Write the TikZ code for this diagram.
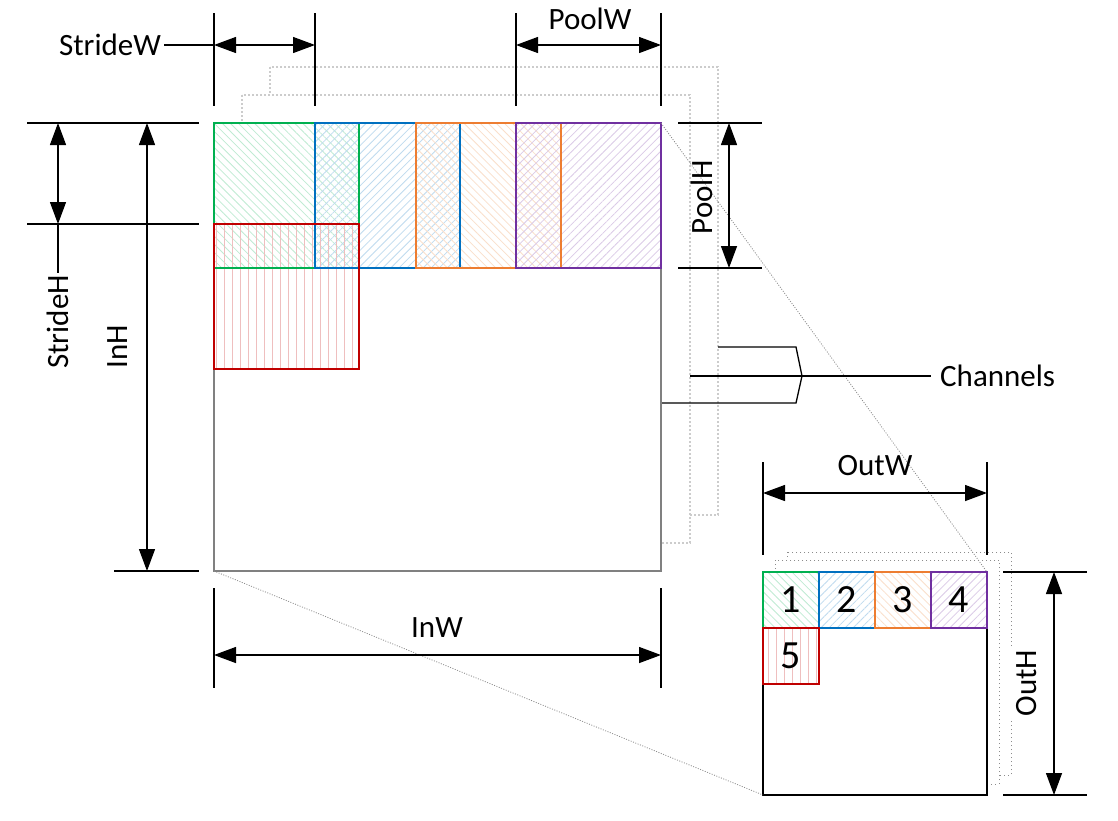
\documentclass[tikz,border=0pt]{standalone}
\usepackage{fontspec}
\setmainfont{Carlito}
\usetikzlibrary{arrows.meta,patterns.meta}
\definecolor{cgreen}{HTML}{00B050}
\definecolor{cblue}{HTML}{0070C0}
\definecolor{corange}{HTML}{ED7D31}
\definecolor{cpurple}{HTML}{7030A0}
\definecolor{cred}{HTML}{C00000}
\begin{document}
\begin{tikzpicture}[x=1pt,y=-1pt,
  ext/.style={line width=1.3pt},
  dim/.style={line width=1.3pt,{Triangle[length=22pt,width=16pt]}-{Triangle[length=22pt,width=16pt]}},
  lbl/.style={font=\fontsize{31}{36}\selectfont, inner sep=0pt},
  inframe/.style={draw=gray!40, fill=white, line width=2pt, dash pattern=on 2pt off 2pt},
  outframe/.style={draw=gray!90, fill=white, line width=1pt, dash pattern=on 1pt off 3pt},
  diag/.style={draw=gray!90, line width=0.8pt, dash pattern=on 1pt off 1.5pt},
  inrect/.style={draw=gray, fill=white, line width=2pt, anchor=north west, inner sep=0pt, outer sep=0pt, minimum width=447pt, minimum height=448pt},
  outrect/.style={draw=black, fill=white, line width=1.5pt, anchor=north west, inner sep=0pt, outer sep=0pt, minimum width=224pt, minimum height=223pt},
  win/.style={anchor=north west, inner sep=0pt, outer sep=0pt, minimum width=145pt, minimum height=145pt},
  cell/.style={anchor=north west, inner sep=0pt, outer sep=0pt, minimum width=56pt, minimum height=56pt, font=\fontsize{40}{48}\selectfont},
  edge/.style={line width=2pt},
  hnw/.style={pattern={Lines[angle=-45,distance=5.7pt,line width=0.8pt]}},
  hne/.style={pattern={Lines[angle=45,distance=5.7pt,line width=0.8pt]}},
  hv/.style={pattern={Lines[angle=90,distance=8pt,line width=0.8pt]}},
]
\useasboundingbox (0,0) rectangle (1118,820);

% ---------- input back frames ----------
\draw[inframe] (270,67) rectangle (718,515);
\draw[inframe] (242,95) rectangle (690,543);

% ---------- input main ----------
\node[inrect] (in) at (214,123) {};

% pooling windows (hatch first)
\node[win, hnw, pattern color=cgreen!25] (w1) at (214,123) {};
\node[win, hne, pattern color=cblue!25] (w2) at (315,123) {};
\node[win, hnw, pattern color=corange!25] (w3) at (416,123) {};
\node[win, hne, pattern color=cpurple!25] (w4) at (516,123) {};
\node[win, hv, pattern color=cred!25] (w5) at (214,224) {};
% window borders
\draw[edge, cgreen] (w1.north west) rectangle (w1.south east);
\draw[edge, cblue] (w2.north west) rectangle (w2.south east);
\draw[edge, corange] (w3.north west) rectangle (w3.south east);
\draw[edge, cpurple] (w4.north west) rectangle (w4.south east);
\draw[edge, cred] (w5.north west) rectangle (w5.south east);

% ---------- output ----------
\draw[outframe] (787,552) rectangle (1011,775);
\draw[outframe] (775,560) rectangle (999,784);
\node[outrect] (out) at (763,572) {};
\node[cell, hnw, pattern color=cgreen!25] (c1) at (763,572) {1};
\node[cell, hne, pattern color=cblue!25] (c2) at (819,572) {2};
\node[cell, hnw, pattern color=corange!25] (c3) at (875,572) {3};
\node[cell, hne, pattern color=cpurple!25] (c4) at (931,572) {4};
\node[cell, hv, pattern color=cred!25] (c5) at (763,628) {5};
\draw[edge, cgreen] (c1.north west) rectangle (c1.south east);
\draw[edge, cblue] (c2.north west) rectangle (c2.south east);
\draw[edge, corange] (c3.north west) rectangle (c3.south east);
\draw[edge, cpurple] (c4.north west) rectangle (c4.south east);
\draw[edge, cred] (c5.north west) rectangle (c5.south east);

% ---------- projection lines ----------
\draw[diag] (in.north east) -- (out.north east);
\draw[diag] (in.south west) -- (out.south west);

% ---------- StrideW / PoolW ----------
\draw[ext] (214,13) -- (214,106);
\draw[ext] (315,13) -- (315,106);
\draw[ext] (516,13) -- (516,106);
\draw[ext] (661,13) -- (661,106);
\coordinate (swa) at (214,45);
\coordinate (swb) at (315,45);
\draw[dim] (swa) -- (swb);
\node[lbl, inner xsep=3pt] (swl) at (110,45) {StrideW};
\draw[ext] (swl.east) -- (swa);
\coordinate (pwa) at (516,45);
\coordinate (pwb) at (661,45);
\draw[dim] (pwa) -- (pwb);
\node[lbl] (pwl) at (590,19) {PoolW};

% ---------- StrideH / InH ----------
\draw[ext] (27,123) -- (199,123);
\draw[ext] (27,224) -- (199,224);
\draw[ext] (114,571) -- (199,571);
\coordinate (sha) at (58,123);
\coordinate (shb) at (58,224);
\draw[dim] (sha) -- (shb);
\node[lbl, rotate=90, inner xsep=2pt] (shl) at (58,322) {StrideH};
\draw[ext] (shb) -- (shl.east);
\coordinate (iha) at (147,123);
\coordinate (ihb) at (147,571);
\draw[dim] (iha) -- (ihb);
\node[lbl, rotate=90] (ihl) at (118,347) {InH};

% ---------- PoolH ----------
\draw[ext] (678,123) -- (762,123);
\draw[ext] (678,268) -- (762,268);
\coordinate (pha) at (729,123);
\coordinate (phb) at (729,268);
\draw[dim] (pha) -- (phb);
\node[lbl, rotate=90] (phl) at (702,197) {PoolH};

% ---------- InW ----------
\draw[ext] (214,588) -- (214,688);
\draw[ext] (661,588) -- (661,688);
\coordinate (iwa) at (214,655);
\coordinate (iwb) at (661,655);
\draw[dim] (iwa) -- (iwb);
\node[lbl] (iwl) at (437,628) {InW};

% ---------- Channels ----------
\node[lbl, anchor=west] (chl) at (940,376) {Channels};
\draw[ext] (718,347) -- (796,347) -- (802,376) -- (796,403) -- (662,403);
\coordinate (chs) at (690,376);
\draw[ext, shorten >=9pt] (chs) -- (chl.west);

% ---------- OutW ----------
\draw[ext] (763,462) -- (763,555);
\draw[ext] (987,462) -- (987,555);
\coordinate (owa) at (763,493);
\coordinate (owb) at (987,493);
\draw[dim] (owa) -- (owb);
\node[lbl] (owl) at (875,466) {OutW};

% ---------- OutH ----------
\draw[ext] (1003,572) -- (1087,572);
\draw[ext] (1003,795) -- (1087,795);
\coordinate (oha) at (1054,572);
\coordinate (ohb) at (1054,795);
\draw[dim] (oha) -- (ohb);
\node[lbl, rotate=90, fill=white, inner xsep=2pt, inner ysep=6pt] (ohl) at (1027,683) {OutH};

\end{tikzpicture}
\end{document}
